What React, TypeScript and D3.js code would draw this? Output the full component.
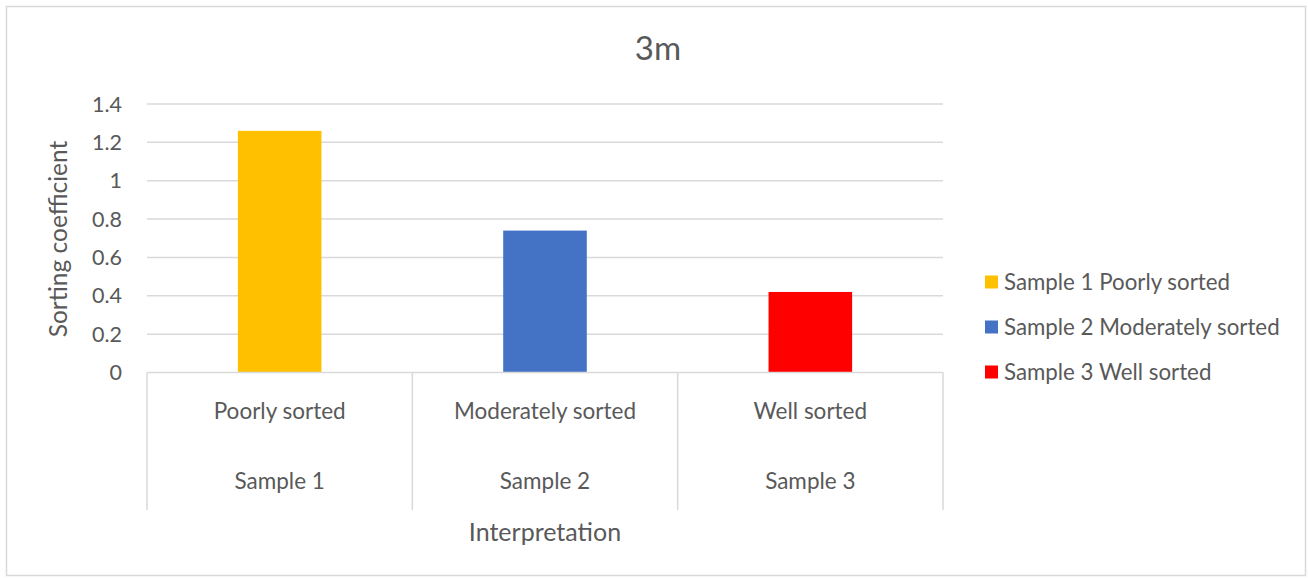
import React from "react";
import * as d3 from "d3";

const categories = ["Poorly sorted", "Moderately sorted", "Well sorted"];
const groups = ["Sample 1", "Sample 2", "Sample 3"];
const seriesNames = ["Sample 1 Poorly sorted", "Sample 2 Moderately sorted", "Sample 3 Well sorted"];
const values = [1.26, 0.74, 0.42];
const colors = ["#FFC000", "#4472C4", "#FF0000"];
const yTicks = [0, 0.2, 0.4, 0.6, 0.8, 1, 1.2, 1.4];
const title = "3m";
const xTitle = "Interpretation";
const yTitle = "Sorting coefficient";

const W = 1308, H = 578;
const plot = { left: 147, right: 943, top: 104, bottom: 372.5 };
const FONT = "Lato, 'Open Sans', sans-serif";
const TEXT = "#595959";
const GRID = "#d9d9d9";

export default function App() {
  const x = d3.scaleBand<number>().domain(d3.range(values.length)).range([plot.left, plot.right]).paddingInner(0).paddingOuter(0);
  const y = d3.scaleLinear().domain([0, 1.4]).range([plot.bottom, plot.top]);
  const bw = x.bandwidth() * 0.315;
  const dividerBottom = 510;
  return (
    <svg width={W} height={H} style={{ position: "absolute", left: 0, top: 0 }} fontFamily={FONT}>
      <rect x={0} y={0} width={W} height={H} fill="#fff" />
      <rect x={6.5} y={6.5} width={1299} height={569} fill="#fff" stroke={GRID} strokeWidth={1.5} />
      <text x={658} y={48} dy="0.35em" textAnchor="middle" fontSize={33} fill={TEXT}>{title}</text>
      {yTicks.map((t) => (
        <g key={t}>
          {t !== 0 && <line x1={plot.left} x2={plot.right} y1={y(t)} y2={y(t)} stroke={GRID} strokeWidth={1.5} />}
          <text x={122} y={y(t)} dy="0.35em" textAnchor="end" fontSize={21.5} fill={TEXT}>{String(t)}</text>
        </g>
      ))}
      {values.map((v, i) => (
        <rect key={i} x={(x(i) as number) + x.bandwidth() / 2 - bw / 2} y={y(v)} width={bw} height={y(0) - y(v)} fill={colors[i]} />
      ))}
      <line x1={plot.left} x2={plot.right} y1={y(0)} y2={y(0)} stroke={GRID} strokeWidth={1.5} />
      {d3.range(values.length + 1).map((i) => {
        const xx = i < values.length ? (x(i) as number) : plot.right;
        return <line key={i} x1={xx} x2={xx} y1={y(0)} y2={dividerBottom} stroke={GRID} strokeWidth={1.5} />;
      })}
      {categories.map((c, i) => (
        <g key={c}>
          <text x={(x(i) as number) + x.bandwidth() / 2} y={411} dy="0.35em" textAnchor="middle" fontSize={22.5} fill={TEXT}>{c}</text>
          <text x={(x(i) as number) + x.bandwidth() / 2} y={481} dy="0.35em" textAnchor="middle" fontSize={22.5} fill={TEXT}>{groups[i]}</text>
        </g>
      ))}
      <text x={545} y={532} dy="0.35em" textAnchor="middle" fontSize={25} fill={TEXT}>{xTitle}</text>
      <text transform={`translate(58,239) rotate(-90)`} dy="0.35em" textAnchor="middle" fontSize={24.5} fill={TEXT}>{yTitle}</text>
      {seriesNames.map((s, i) => (
        <g key={s} transform={`translate(985, ${282 + i * 45})`}>
          <rect x={0} y={-6.5} width={13} height={13} fill={colors[i]} />
          <text x={19} y={0} dy="0.35em" fontSize={22.3} fill={TEXT}>{s}</text>
        </g>
      ))}
    </svg>
  );
}
